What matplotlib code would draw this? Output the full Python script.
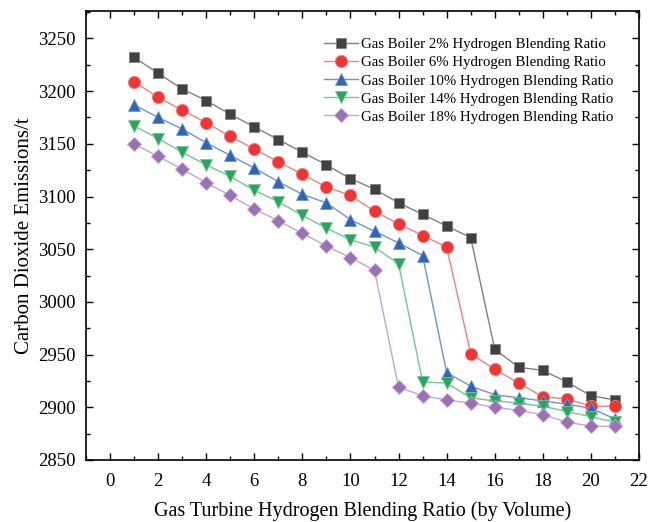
import matplotlib
matplotlib.use("Agg")
import matplotlib.pyplot as plt
from matplotlib.ticker import MultipleLocator

plt.rcParams['font.family'] = ['Liberation Serif', 'DejaVu Serif']

x = list(range(1, 22))
s2 = [3232, 3217, 3202, 3191, 3178, 3166, 3154, 3142, 3130, 3117, 3107, 3094, 3083, 3072, 3061,
      2955, 2938, 2935, 2924, 2911, 2907]
s6 = [3209, 3194, 3182, 3170, 3157, 3145, 3133, 3121, 3109, 3101, 3086, 3074, 3063, 3052, 2951,
      2936, 2923, 2910, 2908, 2901, 2901]
s10 = [3187, 3175, 3164, 3151, 3139, 3127, 3114, 3102, 3094, 3078, 3067, 3056, 3044, 2933, 2920,
       2912, 2909, 2906, 2903, 2899, 2889]
s14 = [3167, 3155, 3142, 3130, 3119, 3106, 3095, 3082, 3070, 3059, 3052, 3036, 2924, 2923, 2909,
       2906, 2904, 2901, 2896, 2891, 2886]
s18 = [3150, 3138, 3126, 3113, 3101, 3088, 3077, 3065, 3053, 3042, 3030, 2919, 2911, 2907, 2904,
       2900, 2897, 2893, 2886, 2882, 2882]

labels = ["Gas Boiler 2% Hydrogen Blending Ratio",
          "Gas Boiler 6% Hydrogen Blending Ratio",
          "Gas Boiler 10% Hydrogen Blending Ratio",
          "Gas Boiler 14% Hydrogen Blending Ratio",
          "Gas Boiler 18% Hydrogen Blending Ratio"]
series = [s2, s6, s10, s14, s18]
mcolors = ['#414141', '#ec3535', '#3264b4', '#2ea35e', '#9a72b4']
lcolors = ['#808080', '#f28080', '#6f93d2', '#72c894', '#c2a6d6']
markers = ['s', 'o', '^', 'v', 'D']
msizes = [7.5, 8.8, 8.8, 8.8, 7.5]

fig = plt.figure(figsize=(6.48, 5.22), dpi=100)
ax = fig.add_axes([86/648, 1-460/522, (639-86)/648, (460-11)/522])

for ys, lab, mc, lc, mk, ms in zip(series, labels, mcolors, lcolors, markers, msizes):
    ax.plot(x, ys, color=lc, lw=1.0, marker=mk, markersize=ms,
            markerfacecolor=mc, markeredgecolor=lc, markeredgewidth=0.6, label=lab)

ax.set_xlim(-1, 22)
ax.set_ylim(2850, 3276)
ax.xaxis.set_major_locator(MultipleLocator(2))
ax.xaxis.set_minor_locator(MultipleLocator(1))
ax.yaxis.set_major_locator(MultipleLocator(50))
ax.yaxis.set_minor_locator(MultipleLocator(25))
ax.tick_params(which='both', direction='in', top=True, right=True, width=1.0, labelsize=13.5)
ax.tick_params(which='major', length=5)
ax.tick_params(which='minor', length=3)
ax.tick_params(axis='x', pad=9.5)
ax.tick_params(axis='y', pad=7.2)
for sp in ax.spines.values():
    sp.set_linewidth(1.2)

ax.set_xlabel("Gas Turbine Hydrogen Blending Ratio (by Volume)", fontsize=14.5, labelpad=8)
ax.set_ylabel("Carbon Dioxide Emissions/t", fontsize=15, labelpad=3)

ax.legend(loc='upper left', bbox_to_anchor=(0.43, 0.94), frameon=False, fontsize=10.75,
          handlelength=2.3, handletextpad=0.2, labelspacing=0.31, borderpad=0, borderaxespad=0)

fig.savefig("out.png", dpi=100)
